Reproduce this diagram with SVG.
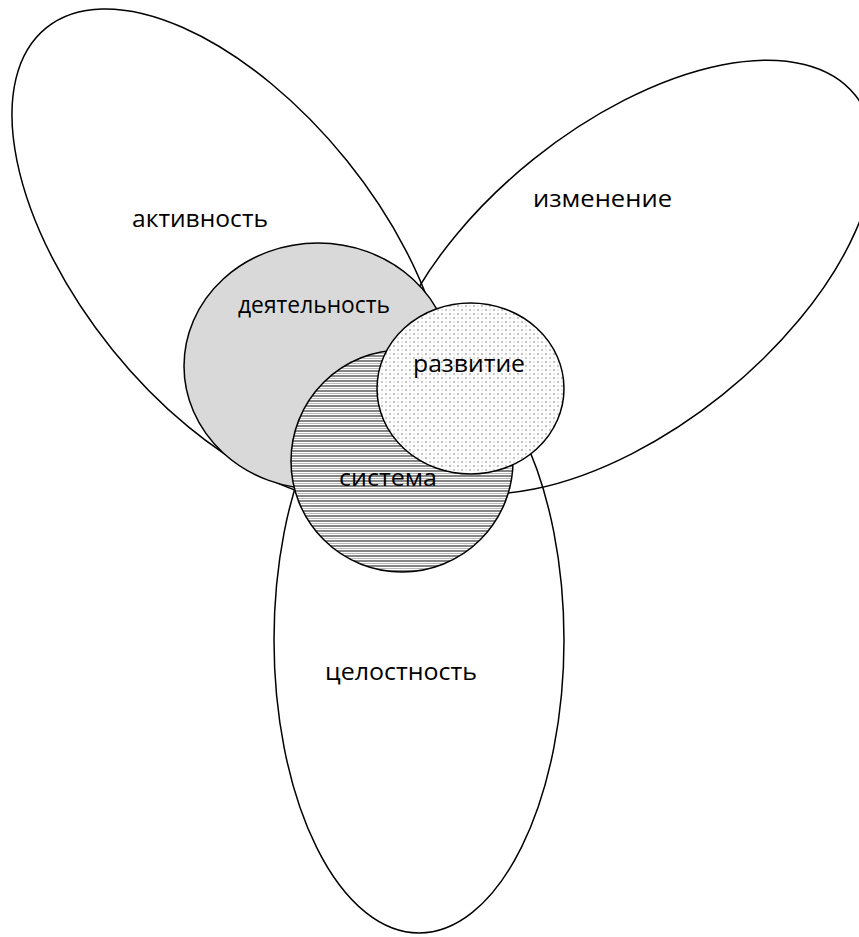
<svg xmlns="http://www.w3.org/2000/svg" width="859" height="937" viewBox="0 0 859 937">
  <style>
    .outline { fill: none; stroke: #000; stroke-width: 1.5; }
    .filled { stroke: #000; stroke-width: 1.5; }
    .label { font-family: "Open Sans", "Noto Sans", "Liberation Sans", sans-serif; font-size: 24px; fill: #000; text-anchor: middle; }
  </style>
  <defs>
    <pattern id="hstripes" width="10" height="5" patternUnits="userSpaceOnUse">
      <rect width="10" height="5" fill="#ffffff"/>
      <rect y="0" width="10" height="2" fill="#858585"/>
      <rect y="3" width="10" height="1" fill="#b8b8b8"/>
    </pattern>
    <pattern id="dots" width="8" height="8" patternUnits="userSpaceOnUse">
      <rect width="8" height="8" fill="#ffffff"/>
      <rect x="1" y="1" width="2" height="2" fill="#c2c2c2"/>
      <rect x="5.5" y="1" width="1" height="2" fill="#d4d4d4"/>
      <rect x="5" y="5" width="2" height="2" fill="#c8c8c8"/>
      <rect x="1" y="5.5" width="2" height="1" fill="#d4d4d4"/>
    </pattern>
  </defs>

  <g id="aktivnost">
    <ellipse class="outline" cx="0" cy="0" rx="292" ry="150.6" transform="translate(229.6 255.1) rotate(51.1)"/>
    <text class="label" x="200" y="227" textLength="136" lengthAdjust="spacingAndGlyphs">активность</text>
  </g>

  <g id="izmenenie">
    <ellipse class="outline" cx="0" cy="0" rx="291" ry="151" transform="translate(628 277) rotate(-38.7)"/>
    <text class="label" x="602.5" y="207" textLength="139" lengthAdjust="spacingAndGlyphs">изменение</text>
  </g>

  <g id="tselostnost">
    <ellipse class="outline" cx="419" cy="640" rx="145" ry="293"/>
    <text class="label" x="401" y="680" textLength="152" lengthAdjust="spacingAndGlyphs">целостность</text>
  </g>

  <g id="deyatelnost">
    <ellipse class="filled" cx="318" cy="366" rx="134" ry="123" fill="#d9d9d9"/>
    <text class="label" x="314" y="313" textLength="152" lengthAdjust="spacingAndGlyphs">деятельность</text>
  </g>

  <g id="sistema">
    <circle class="filled" cx="402" cy="461" r="111" fill="url(#hstripes)"/>
    <text class="label" x="388" y="486" textLength="98" lengthAdjust="spacingAndGlyphs">система</text>
  </g>

  <g id="razvitie">
    <ellipse class="filled" cx="470.5" cy="388.5" rx="93.5" ry="85.5" fill="url(#dots)"/>
    <text class="label" x="469" y="372" textLength="112" lengthAdjust="spacingAndGlyphs">развитие</text>
  </g>
</svg>
